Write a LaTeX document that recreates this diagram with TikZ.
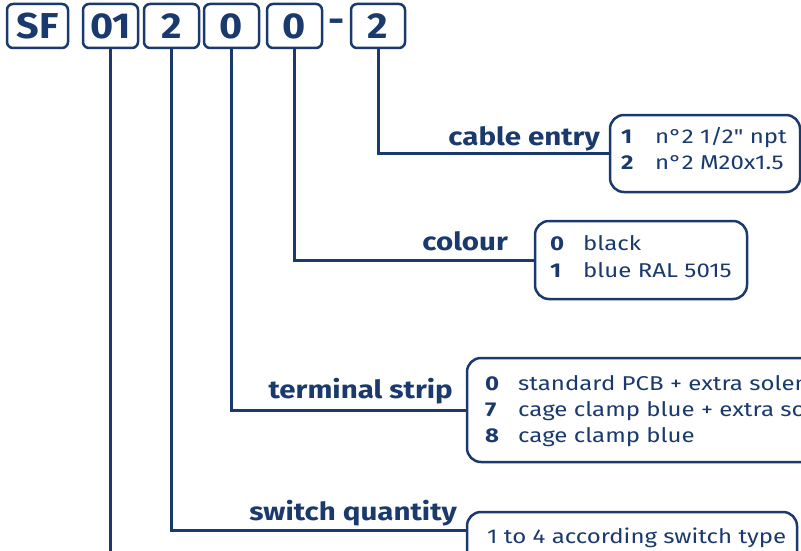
\documentclass[tikz,border=0pt]{standalone}
\usepackage{fontspec}
\setmainfont{Fira Sans}
\newfontfamily\lblfont[FakeStretch=1.18]{Fira Sans}
\newfontfamily\itmfont[FakeStretch=1.2,Ligatures=TeXOff]{Fira Sans}
\newfontfamily\topfont[FakeStretch=1.1]{Fira Sans}
\definecolor{navy}{RGB}{26,58,110}
\begin{document}
\begin{tikzpicture}[x=1pt,y=-1pt,
  topbox/.style={draw=navy, line width=2.5pt, rounded corners=6pt, minimum height=44pt, inner sep=0pt, text=navy, font=\topfont\fontsize{36}{36}\selectfont\bfseries},
  optbox/.style={draw=navy, line width=2.5pt, rounded corners=14pt, inner sep=0pt},
  lead/.style={draw=navy, line width=3pt},
  lbl/.style={text=navy, font=\lblfont\fontsize{25}{25}\selectfont\bfseries, inner sep=0pt, anchor=base east},
  key/.style={text=navy, font=\itmfont\fontsize{20}{20}\selectfont\bfseries, inner sep=0pt, anchor=base west},
  item/.style={text=navy, font=\itmfont\fontsize{20}{20}\selectfont, inner sep=0pt, anchor=base west}]
\useasboundingbox (0,0) rectangle (801,551);
\clip (0,0) rectangle (801,551);
\fill[white] (0,0) rectangle (801,551);
% top code boxes
\node[topbox, minimum width=61pt] (sf) at (37.5,26) {SF};
\node[topbox, minimum width=55pt] (b1) at (110.5,26) {01};
\node[topbox, minimum width=55pt] (b2) at (171.5,26) {2};
\node[topbox, minimum width=55pt] (b3) at (231.5,26) {0};
\node[topbox, minimum width=55pt] (b4) at (294.5,26) {0};
\node[text=navy, font=\topfont\fontsize{36}{36}\selectfont\bfseries, inner sep=0pt] (dash) at (337,26) {-};
\node[topbox, minimum width=54pt] (b5) at (378,26) {2};
% option boxes
\node[optbox, minimum width=190pt, minimum height=77pt] (cb) at (705,153.5) {};
\node[optbox, minimum width=212pt, minimum height=78pt] (cob) at (641,260) {};
\node[optbox, minimum width=383pt, minimum height=104pt] (tb) at (658.5,410) {};
\node[optbox, minimum width=330pt, minimum height=68pt] (qb) at (632,546) {};
\coordinate (sq) at (467,530);
\coordinate (bot) at (112,570);
% leaders
\draw[lead] (b5.south) |- (cb.west);
\draw[lead] (b4.south) |- (cob.west);
\draw[lead] (b3.south) |- (tb.west);
\draw[lead] (b2.south) |- (sq);
\draw[lead] (b1.south) -- (b1.south |- bot);
% labels
\node[lbl] (lce) at (600,145) {cable entry};
\node[lbl] (lco) at (508,250) {colour};
\node[lbl] (lts) at (453,398) {terminal strip};
\node[lbl] (lsq) at (457,520) {switch quantity};
% cable entry items
\node[key] (k11) at (621,143) {1};
\node[key] (k12) at (621,169) {2};
\node[item] (i11) at (655,143) {n°2 1/2" npt};
\node[item] (i12) at (655,169) {n°2 M20x1.5};
% colour items
\node[key] (k21) at (550,250) {0};
\node[key] (k22) at (550,277) {1};
\node[item] (i21) at (583,250) {black};
\node[item] (i22) at (583,277) {blue RAL 5015};
% terminal items
\node[key] (k31) at (485,390) {0};
\node[key] (k32) at (485,416) {7};
\node[key] (k33) at (485,442) {8};
\node[item] (i31) at (518,390) {standard PCB + extra solenoid};
\node[item] (i32) at (518,416) {cage clamp blue + extra solenoid};
\node[item] (i33) at (518,442) {cage clamp blue};
% switch item
\node[item] (i41) at (487,543) {1 to 4 according switch type};
\end{tikzpicture}
\end{document}
